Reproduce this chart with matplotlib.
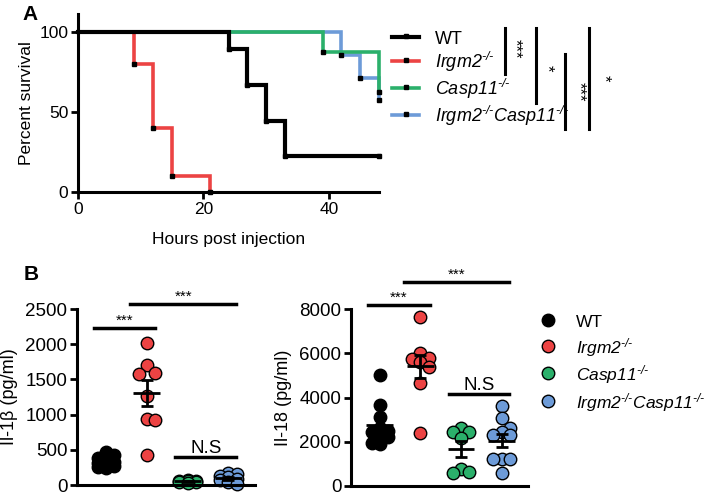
import numpy as np
import matplotlib
matplotlib.use('Agg')
import matplotlib.pyplot as plt
from matplotlib.lines import Line2D

plt.rcParams['font.family'] = ['Liberation Sans', 'DejaVu Sans']
# math is only used for the italic genotype labels, so make it all italic
plt.rcParams['mathtext.fontset'] = 'custom'
plt.rcParams['mathtext.rm'] = 'Liberation Sans:italic'
plt.rcParams['mathtext.it'] = 'Liberation Sans:italic'

# groups
groups = ['WT', 'Irgm2', 'Casp11', 'DKO']
ko = '^{\u2010/\u2010}'
labels = ['WT',
          '$\\mathit{Irgm2}' + ko + '$',
          '$\\mathit{Casp11}' + ko + '$',
          '$\\mathit{Irgm2}' + ko + '\\mathit{Casp11}' + ko + '$']
colors = ['black', '#ec4343', '#2bb06b', '#6d9bd8']

# panel A : survival, hours / percent
wt_t = [0, 24, 27, 30, 33, 48]
wt_s = [100, 88.9, 66.7, 44.4, 22.2, 22.2]
irgm2_t = [0, 9, 12, 15, 21]
irgm2_s = [100, 80, 40, 10, 0]
casp11_t = [0, 39, 48]
casp11_s = [100, 87.5, 62.5]
dko_t = [0, 42, 45, 48]
dko_s = [100, 85.7, 71.4, 57.1]

# panel B : cytokines pg/ml
il1b_wt = [470, 420, 380, 350, 330, 310, 290, 270, 250, 240]
il1b_irgm2 = [2010, 1700, 1590, 1580, 1270, 940, 920, 430]
il1b_casp11 = [70, 60, 55, 50, 45, 40, 35]
il1b_dko = [170, 150, 130, 110, 90, 70, 40, 15]
il18_wt = [5020, 3660, 3130, 2600, 2500, 2450, 2250, 2200, 1950, 1900]
il18_irgm2 = [7650, 6000, 5800, 5750, 5600, 5400, 4650, 2380]
il18_casp11 = [2640, 2460, 2460, 2190, 750, 650, 570]
il18_dko = [3620, 3060, 2610, 2450, 2300, 2300, 1200, 1200, 1200, 600]

W, H = 709, 497
def fx(px):
    return px / W
def fy(py):
    return 1 - py / H

fig = plt.figure(figsize=(7.09, 4.97), dpi=100)

#----- panel A
axA = fig.add_axes([fx(78), fy(192), (379 - 78) / W, (192 - 14) / H])
curves = [(dko_t, dko_s, colors[3], 2.6),
          (casp11_t, casp11_s, colors[2], 2.6),
          (irgm2_t, irgm2_s, colors[1], 2.6),
          (wt_t, wt_s, colors[0], 3.0)]
for t, s, c, lw in curves:
    axA.plot(t, s, drawstyle='steps-post', color=c, lw=lw, clip_on=False,
             solid_joinstyle='miter')
    axA.plot(t[1:], s[1:], 's', color='black', ms=3.2, clip_on=False, zorder=5)
axA.set_xlim(0, 48)
axA.set_ylim(0, 111)
axA.set_xticks([0, 20, 40])
axA.set_yticks([0, 50, 100])
axA.spines['top'].set_visible(False)
axA.spines['right'].set_visible(False)
for sp in ['left', 'bottom']:
    axA.spines[sp].set_linewidth(2.2)
axA.tick_params(width=2, length=5, labelsize=12.5, pad=2)
axA.set_xlabel('Hours post injection', fontsize=12.5, labelpad=11)
axA.set_ylabel('Percent survival', fontsize=12.5, labelpad=4)

# legend A
rowsA = [44, 68, 95, 122]
for i in range(4):
    yb = rowsA[i]
    fig.add_artist(Line2D([fx(392), fx(419)], [fy(yb - 7), fy(yb - 7)],
                          color=colors[i], lw=3.0 if i == 0 else 2.6))
    fig.add_artist(Line2D([fx(405.5)], [fy(yb - 8)], marker='s', ms=3.2,
                          color='black', lw=0))
    fig.text(fx(435), fy(yb), labels[i], fontsize=13, va='baseline', ha='left')

# significance A
sigA = [(505, 28, 74, '***', 515, 49),
        (536, 28, 103, '*', 547, 68),
        (565, 54, 129, '***', 579, 92),
        (589, 28, 129, '*', 604, 78)]
for x, y0, y1, txt, tx, ty in sigA:
    fig.add_artist(Line2D([fx(x), fx(x)], [fy(y0), fy(y1)], color='black', lw=2.2))
    fig.text(fx(tx), fy(ty), txt, rotation=-90, fontsize=12, ha='center', va='center')

fig.text(fx(30), fy(14), 'A', fontsize=15, fontweight='bold', ha='center', va='center')
fig.text(fx(31), fy(274), 'B', fontsize=15, fontweight='bold', ha='center', va='center')


#----- panel B
def grid_swarm(ax, vals, step_px=8.3, dmin=11.5, maxslot=1):
    # GraphPad-like scatter: points share a few fixed columns, overlap allowed
    v = np.asarray(vals, dtype=float)
    ypix = ax.transData.transform(np.column_stack([np.zeros(len(v)), v]))[:, 1]
    cand = [0, 1, -1, 2, -2][:2 * maxslot + 1]
    slots = np.zeros(len(v))
    placed = []
    for k in np.argsort(-v, kind='stable'):
        best, bestd = 0, -1
        for s in cand:
            d = min([abs(y - ypix[k]) for ss, y in placed if ss == s], default=1e9)
            if d >= dmin:
                best = s
                break
            if d > bestd:
                best, bestd = s, d
        slots[k] = best
        placed.append((best, ypix[k]))
    ppu = ax.transData.transform((1, 0))[0] - ax.transData.transform((0, 0))[0]
    return slots * step_px / ppu


def cyto_panel(ax, vals, ymax, step, ylabel, sig):
    ax.set_xlim(-0.71, 3.65)
    ax.set_ylim(0, ymax)
    for i, v in enumerate(vals):
        xo = grid_swarm(ax, v)
        ax.scatter(i + xo, v, s=81, color=colors[i], edgecolors='black',
                   linewidths=1, zorder=3, clip_on=False)
        m = np.mean(v)
        sem = np.std(v, ddof=1) / np.sqrt(len(v))
        ax.hlines(m, i - 0.33, i + 0.33, color='black', lw=2, zorder=5)
        ax.errorbar(i, m, yerr=sem, fmt='none', ecolor='black', elinewidth=2,
                    capsize=4.5, capthick=2, zorder=5)
    ax.set_yticks(np.arange(0, ymax + 1, step))
    ax.set_xticks([])
    ax.set_ylabel(ylabel, fontsize=13, labelpad=5)
    ax.spines['top'].set_visible(False)
    ax.spines['right'].set_visible(False)
    for sp in ['left', 'bottom']:
        ax.spines[sp].set_linewidth(2.2)
    ax.spines['bottom'].set_zorder(6)
    ax.tick_params(axis='y', width=2, length=5, labelsize=13.5, pad=2)
    for x0, x1, y, txt, fs in sig:
        ax.plot([x0, x1], [y, y], color='black', lw=2.5, clip_on=False)
        ax.text((x0 + x1) / 2, y, txt, fontsize=fs, ha='center', va='bottom')

ax1 = fig.add_axes([fx(77), fy(485), 178 / W, 176 / H])
cyto_panel(ax1, [il1b_wt, il1b_irgm2, il1b_casp11, il1b_dko], 2500, 500,
           u'Il-1\u03b2 (pg/ml)',
           [(-0.3, 1.2, 2230, '***', 11), (0.59, 3.19, 2570, '***', 11),
            (1.7, 3.19, 400, 'N.S', 13.5)])

ax2 = fig.add_axes([fx(351), fy(486), 177 / W, 177 / H])
cyto_panel(ax2, [il18_wt, il18_irgm2, il18_casp11, il18_dko], 8000, 2000,
           'Il-18 (pg/ml)',
           [(-0.3, 1.23, 8180, '***', 11), (0.59, 3.19, 9220, '***', 11),
            (1.7, 3.19, 4160, 'N.S', 13.5)])

# legend B
rowsB = [320, 346, 373, 401]
for i in range(4):
    fig.add_artist(Line2D([fx(548)], [fy(rowsB[i])], marker='o', ms=9,
                          markerfacecolor=colors[i], markeredgecolor='black',
                          markeredgewidth=1, lw=0))
    fig.text(fx(576), fy(rowsB[i] + 7), labels[i], fontsize=12.5, va='baseline', ha='left')

fig.savefig('out.png', dpi=100)
